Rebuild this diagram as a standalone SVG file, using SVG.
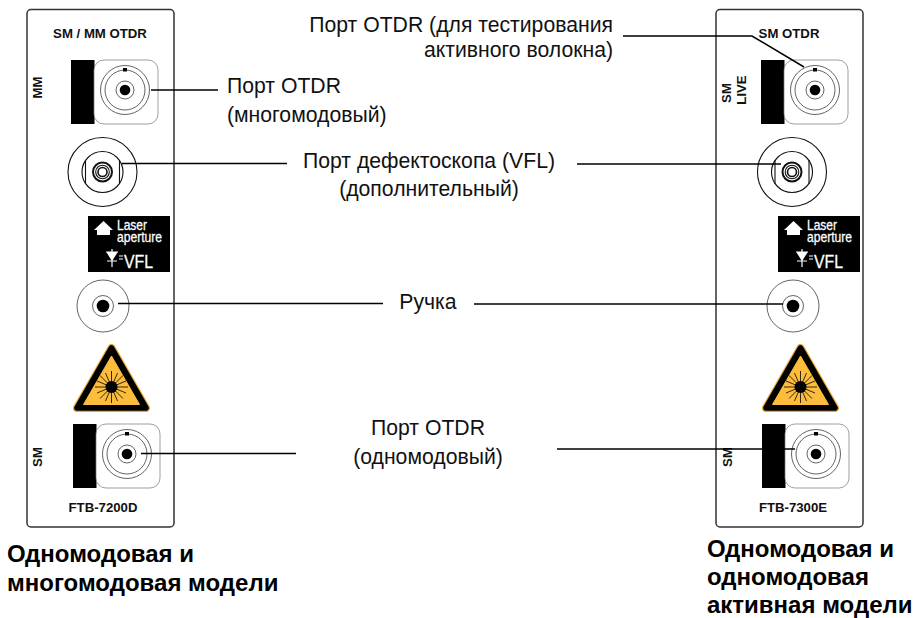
<svg xmlns="http://www.w3.org/2000/svg" width="914" height="618" viewBox="0 0 914 618">
<style>
text{font-family:"Liberation Sans",Arial,sans-serif;fill:#111}
.lbl{font-size:21.2px;text-anchor:middle}
.lbl-l{font-size:21.2px}
.lbl-r{font-size:21.2px;text-anchor:end}
.title{font-size:24px;font-weight:bold;fill:#000}
.tiny{font-size:13.2px;font-weight:bold;text-anchor:middle}
.panel{fill:#fff;stroke:#333;stroke-width:1.5}
.thin{fill:none;stroke:#222;stroke-width:.7}
.thick{fill:none;stroke:#111;stroke-width:1.1}
.conn{fill:none;stroke:#000;stroke-width:1.500}
.ap{fill:#fff;stroke:#fff;stroke-width:.3}
</style>
<defs>
<g id="bnc">
<rect x="-54" y="-30" width="23.500" height="64" fill="#000"/>
<rect x="-31" y="-30" width="64" height="64" rx="10" fill="#fff" stroke="#777" stroke-width=".7"/>
<circle r="24.500" class="thin"/><circle r="20" class="thin"/><circle r="9" class="thin"/><circle r="5.300" fill="#000"/>
<rect x="-2" y="-22" width="4" height="3.500" fill="#000"/>
</g>
<g id="vfl">
<circle r="34.500" class="thick"/>
<circle r="20.500" class="thick"/>
<path d="M-17-12V12M17-12V12" class="thick"/>
<circle r="9.500" fill="none" stroke="#111" stroke-width="2"/>
<circle r="6.800" fill="none" stroke="#111" stroke-width="1.100"/>
<circle r="4.500" fill="#fff" stroke="#111" stroke-width="1.600"/>
</g>
<g id="aperture">
<rect width="82" height="56" fill="#000"/>
<path d="M6 14L15.500 5L25 14L22 14V19H9V14Z" fill="#fff"/>
<text x="29" y="14" class="ap" font-size="15" textLength="30" lengthAdjust="spacingAndGlyphs">Laser</text>
<text x="29" y="26" class="ap" font-size="15" textLength="45" lengthAdjust="spacingAndGlyphs">aperture</text>
<path d="M18 36H30M19 36L24 44L29 36ZM19 45H29M24 33V51" fill="#fff" stroke="#fff" stroke-width="1.200"/>
<path d="M31 40h4M31 43h4" stroke="#fff"/>
<text x="36" y="51.500" class="ap" font-size="19" textLength="29" lengthAdjust="spacingAndGlyphs">VFL</text>
</g>
<g id="knob">
<circle r="26" class="thin"/><circle r="10.500" class="thin"/><circle r="6.300" fill="#000"/>
</g>
<g id="laser">
<path d="M0 4L34.500 64H-34.500Z" fill="#000" stroke="#e9a92c" stroke-width="8" stroke-linejoin="round"/>
<path d="M0 4L34.500 64H-34.500Z" fill="#000" stroke="#000" stroke-width="5.600" stroke-linejoin="round"/>
<path d="M0 12L28 60.500H-28Z" fill="#fdbd3c" stroke="#fdbd3c" stroke-width="1" stroke-linejoin="round"/>
<circle cy="43" r="6" fill="#000"/>
<path d="M-16.500 43H16.500M0 27V59M-11.500 31.500L11.500 54.500M11.500 31.500L-11.500 54.500M-14.500 37L14.500 49M14.500 37L-14.500 49M-6 29L6 57M6 29L-6 57" stroke="#000" stroke-width=".8" fill="none"/>
</g>
</defs>
<rect width="914" height="618" fill="#fff"/>
<g id="panel-left">
<rect class="panel" x="27" y="9.500" width="147" height="517.500" rx="4"/>
<text class="tiny" x="100" y="37.500">SM / MM OTDR</text>
<text class="tiny" transform="translate(42 87.500) rotate(-90)">MM</text>
<text class="tiny" transform="translate(42 457) rotate(-90)">SM</text>
<text class="tiny" x="103" y="512">FTB-7200D</text>
</g>
<g id="otdr-mm-left"><use href="#bnc" x="125" y="90"/></g>
<g id="vfl-left"><use href="#vfl" x="102.500" y="172"/></g>
<g id="aperture-left"><use href="#aperture" x="88" y="216"/></g>
<g id="knob-left"><use href="#knob" x="103" y="306"/></g>
<g id="laser-left"><use href="#laser" x="111.500" y="344"/></g>
<g id="otdr-sm-left"><use href="#bnc" x="127" y="454"/></g>
<g id="panel-right">
<rect class="panel" x="716" y="9.500" width="147" height="517.500" rx="4"/>
<text class="tiny" x="789" y="37.500">SM OTDR</text>
<text class="tiny" transform="translate(731 93) rotate(-90)">SM</text>
<text class="tiny" transform="translate(746 90) rotate(-90)">LIVE</text>
<text class="tiny" transform="translate(732 457) rotate(-90)">SM</text>
<text class="tiny" x="793" y="512">FTB-7300E</text>
</g>
<g id="otdr-live-right"><use href="#bnc" x="815" y="90"/></g>
<g id="vfl-right"><use href="#vfl" x="792" y="172"/></g>
<g id="aperture-right"><use href="#aperture" x="778" y="216"/></g>
<g id="knob-right"><use href="#knob" x="793" y="306"/></g>
<g id="laser-right"><use href="#laser" x="800.500" y="344"/></g>
<g id="otdr-sm-right"><use href="#bnc" x="816" y="454"/></g>
<g id="connectors">
<path class="conn" d="M151 90H218"/>
<path class="conn" d="M122 163.500H287"/>
<path class="conn" d="M577 164H781"/>
<path class="conn" d="M118 303.500H383"/>
<path class="conn" d="M474 304H783"/>
<path class="conn" d="M141 453.500H296"/>
<path class="conn" d="M557 449H795"/>
<path class="conn" d="M623 36H752L804 67" stroke-width="1"/>
</g>
<g id="labels">
<text class="lbl-l" x="227" y="93">Порт OTDR</text>
<text class="lbl-l" x="227" y="122">(многомодовый)</text>
<text class="lbl" x="429" y="168">Порт дефектоскопа (VFL)</text>
<text class="lbl" x="429" y="196">(дополнительный)</text>
<text class="lbl" x="428" y="309">Ручка</text>
<text class="lbl" x="428" y="435">Порт OTDR</text>
<text class="lbl" x="428" y="464">(одномодовый)</text>
<text class="lbl-r" x="613" y="32">Порт OTDR (для тестирования</text>
<text class="lbl-r" x="613" y="57">активного волокна)</text>
<text class="title" x="7" y="562">Одномодовая и</text>
<text class="title" x="7" y="591">многомодовая модели</text>
<text class="title" x="707" y="557">Одномодовая и</text>
<text class="title" x="707" y="585">одномодовая</text>
<text class="title" x="707" y="612.500">активная модели</text>
</g>
</svg>
